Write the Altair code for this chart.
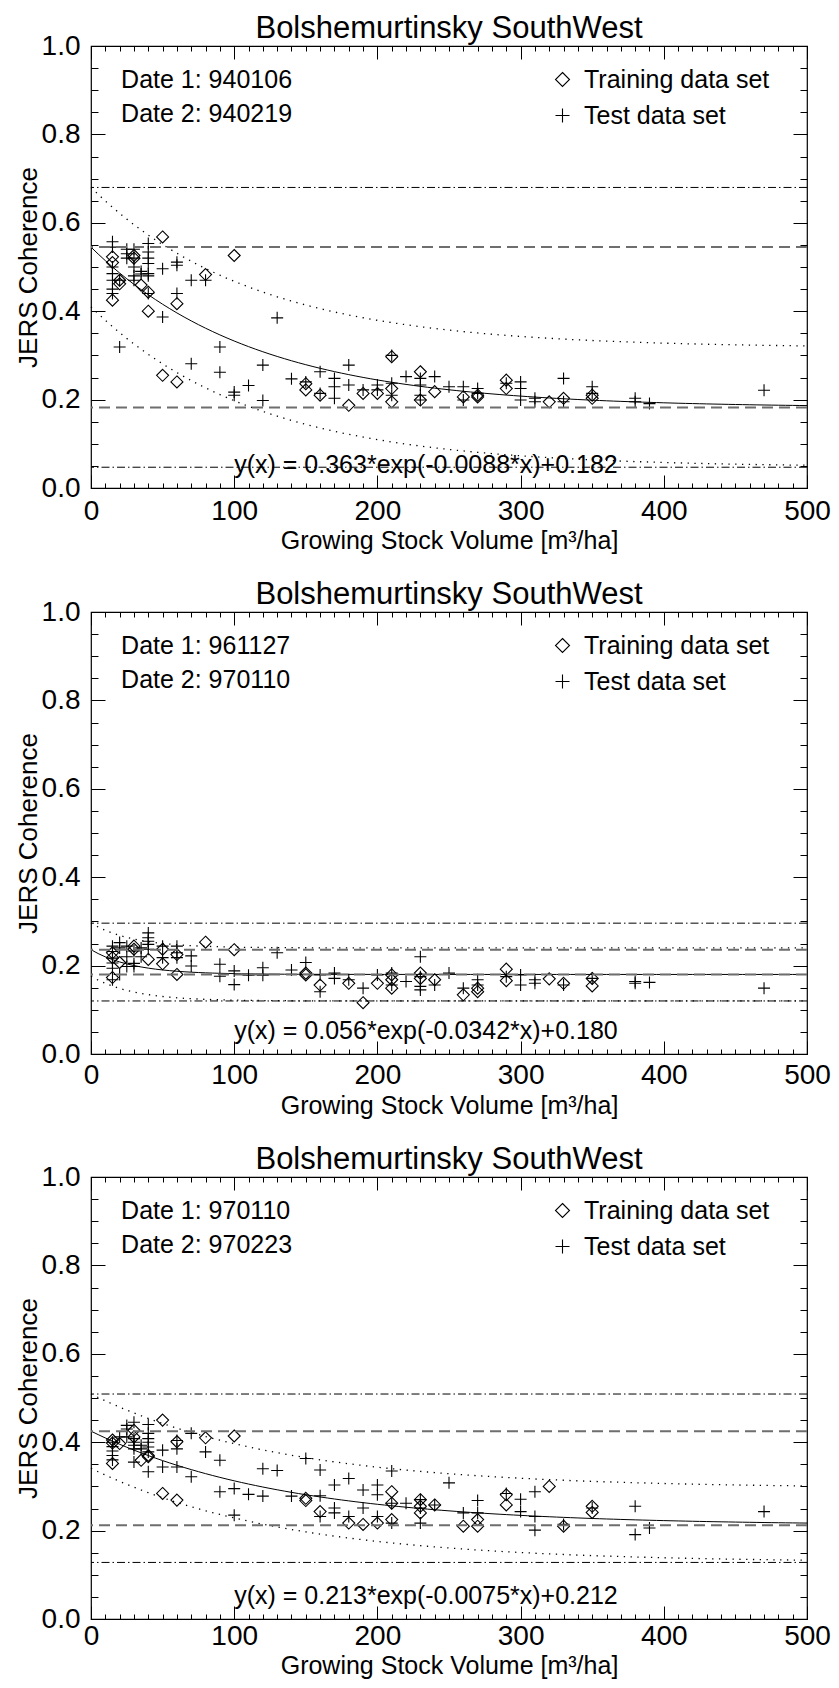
import altair as alt
import pandas as pd

FONT = "Liberation Sans, Arial, Helvetica, sans-serif"

TITLE = "Bolshemurtinsky SouthWest"
X_TITLE = "Growing Stock Volume [m³/ha]"
Y_TITLE = "JERS Coherence"
SET_NAMES = ["Training data set", "Test data set"]
DATE_1 = ["940106", "961127", "970110"]
DATE_2 = ["940219", "970110", "970223"]
EQUATIONS = [
    "y(x) = 0.363*exp(-0.0088*x)+0.182",
    "y(x) = 0.056*exp(-0.0342*x)+0.180",
    "y(x) = 0.213*exp(-0.0075*x)+0.212",
]
FIT_A = [0.363, 0.056, 0.213]
FIT_B = [-0.0088, -0.0342, -0.0075]
FIT_C = [0.182, 0.180, 0.212]
BAND = [0.135, 0.060, 0.084]
DASHED_LEVELS = [[0.545, 0.182], [0.236, 0.180], [0.425, 0.212]]
DASHDOT_LEVELS = [[0.680, 0.047], [0.296, 0.120], [0.509, 0.128]]

X_MAJOR = [0, 100, 200, 300, 400, 500]
X_MINOR = list(range(0, 501, 10))
Y_MAJOR = [0.0, 0.2, 0.4, 0.6, 0.8, 1.0]
Y_MINOR = [round(k * 0.05, 2) for k in range(21)]

# ---- panel 1 (940106 / 940219)
P1_TRAIN_X = [15, 20, 30, 35, 40, 50, 60, 80, 100, 150, 160, 180, 190, 200, 210, 230, 240, 260, 270, 290, 320, 330, 350]
P1_TRAIN_Y = [[0.523, 0.510, 0.425], [0.462, 0.470], [0.526, 0.520], [0.459], [0.443, 0.400], [0.568, 0.255],
              [0.417, 0.240], [0.483], [0.526], [0.236, 0.222], [0.210], [0.187], [0.214], [0.214],
              [0.297, 0.225, 0.195], [0.263, 0.199], [0.218], [0.206], [0.206, 0.210], [0.244, 0.225],
              [0.195], [0.203], [0.203, 0.210]]
P1_TEST_X = [15, 20, 25, 30, 35, 40, 50, 60, 70, 80, 90, 100, 110, 120, 130, 140, 150, 160, 170, 180, 190, 200,
             210, 220, 230, 240, 250, 260, 270, 290, 300, 310, 330, 350, 380, 390, 470]
P1_TEST_Y = [[0.557, 0.545, 0.500, 0.485, 0.470, 0.450, 0.440], [0.470, 0.319], [0.540, 0.530, 0.520],
             [0.540, 0.520, 0.500, 0.480, 0.470], [0.490, 0.484], [0.553, 0.534, 0.520, 0.508, 0.485, 0.480, 0.440],
             [0.496, 0.387], [0.511, 0.504, 0.440], [0.470, 0.281], [0.470], [0.319, 0.262], [0.217, 0.210],
             [0.232], [0.278, 0.198], [0.385], [0.247], [0.240], [0.263, 0.214], [0.248, 0.229, 0.203],
             [0.278, 0.233], [0.222], [0.233, 0.222], [0.300, 0.237, 0.210], [0.252], [0.248, 0.233, 0.210, 0.199],
             [0.252], [0.229], [0.229, 0.199], [0.225, 0.214], [0.237], [0.240, 0.225, 0.199], [0.203, 0.195],
             [0.248, 0.195], [0.229, 0.214], [0.203, 0.195], [0.191], [0.221]]

# ---- panel 2 (961127 / 970110)
P2_TRAIN_X = [15, 20, 30, 40, 50, 60, 80, 100, 150, 160, 180, 190, 200, 210, 230, 240, 260, 270, 290, 320, 330, 350]
P2_TRAIN_Y = [[0.229, 0.218, 0.173], [0.207], [0.244, 0.237], [0.214], [0.237, 0.204], [0.225, 0.180], [0.253],
              [0.236], [0.183, 0.179], [0.156], [0.160], [0.116], [0.160], [0.179, 0.168, 0.149],
              [0.183, 0.171], [0.168], [0.134], [0.149, 0.141], [0.192, 0.166], [0.170], [0.160], [0.171, 0.154]]
P2_TEST_X = [15, 20, 25, 30, 35, 40, 50, 60, 70, 90, 100, 110, 120, 130, 140, 150, 160, 170, 180, 190, 200, 210,
             220, 230, 240, 250, 260, 270, 290, 300, 310, 330, 350, 380, 390, 470]
P2_TEST_Y = [[0.244, 0.232, 0.217, 0.206, 0.194, 0.168], [0.252, 0.240, 0.180], [0.244, 0.220, 0.198],
             [0.233, 0.205, 0.198], [0.240, 0.220], [0.274, 0.263, 0.255, 0.248, 0.237], [0.244, 0.218],
             [0.244, 0.229, 0.218], [0.222, 0.199], [0.203, 0.176], [0.188, 0.157], [0.178], [0.195, 0.178],
             [0.229], [0.190], [0.207], [0.179, 0.141], [0.183, 0.171], [0.168], [0.149], [0.179], [0.183, 0.156],
             [0.164], [0.220, 0.175, 0.153, 0.145], [0.156], [0.183], [0.149], [0.168, 0.156], [0.175],
             [0.179, 0.156], [0.168, 0.160], [0.156], [0.171], [0.164, 0.160], [0.162], [0.149]]

# ---- panel 3 (970110 / 970223)
P3_TRAIN_X = [15, 20, 30, 35, 40, 50, 60, 80, 100, 150, 160, 180, 190, 200, 210, 230, 240, 260, 270, 290, 320, 330, 350]
P3_TRAIN_Y = [[0.405, 0.398, 0.352], [0.397], [0.427, 0.412], [0.359], [0.370, 0.367], [0.450, 0.284],
              [0.401, 0.269], [0.410], [0.414], [0.273, 0.268], [0.243], [0.217], [0.214], [0.217],
              [0.288, 0.262, 0.225], [0.270, 0.255, 0.240], [0.258], [0.210], [0.225, 0.210], [0.281, 0.258],
              [0.300], [0.210], [0.255, 0.241]]
P3_TEST_X = [15, 20, 25, 30, 35, 40, 50, 60, 70, 80, 90, 100, 110, 120, 130, 140, 150, 160, 170, 180, 190, 200,
             210, 220, 230, 240, 250, 260, 270, 290, 300, 310, 330, 350, 380, 390, 470]
P3_TEST_Y = [[0.400, 0.390, 0.380, 0.370, 0.360], [0.412], [0.438, 0.430, 0.412],
             [0.445, 0.408, 0.400, 0.393, 0.385, 0.355], [0.393, 0.385],
             [0.440, 0.420, 0.408, 0.400, 0.389, 0.378, 0.333], [0.382, 0.344], [0.404, 0.385, 0.344],
             [0.420, 0.322], [0.378], [0.359, 0.288], [0.295, 0.235], [0.282], [0.340, 0.278], [0.336], [0.278],
             [0.363], [0.337, 0.279, 0.232], [0.303, 0.251, 0.240], [0.318, 0.232], [0.292, 0.251],
             [0.303, 0.281, 0.232], [0.335, 0.262, 0.217], [0.262], [0.270, 0.251, 0.217], [0.258], [0.308],
             [0.240], [0.268, 0.240], [0.284], [0.271, 0.243], [0.288, 0.232, 0.201], [0.214], [0.251],
             [0.255, 0.191], [0.206], [0.243]]

TRAIN_X = [P1_TRAIN_X, P2_TRAIN_X, P3_TRAIN_X]
TRAIN_Y = [P1_TRAIN_Y, P2_TRAIN_Y, P3_TRAIN_Y]
TEST_X = [P1_TEST_X, P2_TEST_X, P3_TEST_X]
TEST_Y = [P1_TEST_Y, P2_TEST_Y, P3_TEST_Y]

# ---- style / layout (not data)
DIAMOND = "M0,-1L1,0L0,1L-1,0Z"
PLUS = "M-1,0L1,0M0,-1L0,1"
W, H = 716, 442
X_LABEL_PAD = [9, 7, 3]          # per panel: gap between plot bottom and tick labels
X_TITLE_Y = [73, 72, 67]         # per panel: x-title baseline, relative to the (inset) axis line


def expand(xs, groups, name):
    rows = []
    for x, ys in zip(xs, groups):
        for y in ys:
            rows.append({"gsv": x, "coh": y, "set": name})
    return rows


XS = alt.Scale(domain=[0, 500], nice=False, zero=False)
YS = alt.Scale(domain=[0, 1], nice=False, zero=False)


def x_axis(orient, major, show_labels=False, i=0):
    kw = dict(orient=orient, values=X_MAJOR if major else X_MINOR, domain=False, grid=False,
              ticks=True, tickColor="black", tickWidth=1, tickOpacity=1, zindex=2, minExtent=0,
              tickSize=13 if major else 5, offset=-13 if major else -5, labels=show_labels)
    if show_labels:
        kw.update(format="d", labelFont=FONT, labelFontSize=28, labelColor="black", labelPadding=X_LABEL_PAD[i],
                  labelFlush=False, labelOverlap=False, labelBound=False,
                  title=X_TITLE, titleFont=FONT, titleFontSize=25, titleFontWeight="normal",
                  titleColor="black", titleBaseline="alphabetic", titleY=X_TITLE_Y[i])
    else:
        kw.update(title=None)
    return alt.Axis(**kw)


def y_axis(orient, major, show_labels=False):
    kw = dict(orient=orient, values=Y_MAJOR if major else Y_MINOR, domain=False, grid=False,
              ticks=True, tickColor="black", tickWidth=1, tickOpacity=1, zindex=2, minExtent=0,
              tickSize=14 if major else 7, offset=-14 if major else -7, labels=show_labels)
    if show_labels:
        kw.update(format=".1f", labelFont=FONT, labelFontSize=28, labelColor="black", labelPadding=11,
                  labelFlush=False, labelOverlap=False, labelBound=False,
                  title=Y_TITLE, titleFont=FONT, titleFontSize=26, titleFontWeight="normal",
                  titleColor="black", titlePadding=0)
    else:
        kw.update(title=None)
    return alt.Axis(**kw)


def text_layer(txt, xv, yv):
    return alt.Chart(alt.Data(values=[{}])).mark_text(
        text=txt, align="left", baseline="alphabetic", font=FONT, fontSize=25, color="black"
    ).encode(x=alt.XDatum(xv, scale=XS, axis=None), y=alt.YDatum(yv, scale=YS, axis=None))


def make_panel(i):
    pts = pd.DataFrame(expand(TRAIN_X[i], TRAIN_Y[i], SET_NAMES[0]) +
                       expand(TEST_X[i], TEST_Y[i], SET_NAMES[1]))
    a, b, c, d = FIT_A[i], FIT_B[i], FIT_C[i], BAND[i]

    points = alt.Chart(pts).mark_point(filled=False, color="black", strokeWidth=1.1, size=144, opacity=1).encode(
        x=alt.X("gsv:Q", scale=XS, axis=x_axis("bottom", True, True, i)),
        y=alt.Y("coh:Q", scale=YS, axis=y_axis("left", True, True)),
        shape=alt.Shape("set:N", scale=alt.Scale(domain=SET_NAMES, range=[DIAMOND, PLUS]),
                        legend=alt.Legend(title=None, orient="none", legendX=459, legendY=21,
                                          direction="vertical", labelFont=FONT, labelFontSize=25,
                                          labelColor="black", labelLimit=0, symbolSize=196,
                                          symbolStrokeWidth=1.1, symbolStrokeColor="black",
                                          labelOffset=9, rowPadding=10, padding=0)),
    )

    curve = alt.Chart(alt.sequence(0, 505, 5, as_="gsv")).transform_calculate(
        fit=f"{a}*exp({b}*datum.gsv)+{c}",
        upper=f"{a}*exp({b}*datum.gsv)+{c}+{d}",
        lower=f"{a}*exp({b}*datum.gsv)+{c}-{d}",
    )
    fit_line = curve.mark_line(color="black", strokeWidth=1).encode(
        x=alt.X("gsv:Q", scale=XS, axis=x_axis("bottom", False)),
        y=alt.Y("fit:Q", scale=YS, axis=y_axis("left", False)),
    )
    upper = curve.mark_line(color="black", strokeWidth=1.3, strokeDash=[1.3, 5.5]).encode(
        x=alt.X("gsv:Q", scale=XS, axis=x_axis("top", True)),
        y=alt.Y("upper:Q", scale=YS, axis=y_axis("right", True)),
    )
    lower = curve.mark_line(color="black", strokeWidth=1.3, strokeDash=[1.3, 5.5]).encode(
        x=alt.X("gsv:Q", scale=XS, axis=x_axis("top", False)),
        y=alt.Y("lower:Q", scale=YS, axis=y_axis("right", False)),
    )
    dashed = alt.Chart(pd.DataFrame({"level": DASHED_LEVELS[i]})).mark_rule(
        color="#6e6e6e", strokeWidth=2, strokeDash=[11, 6]
    ).encode(y=alt.Y("level:Q", scale=YS, axis=None))
    dashdot = alt.Chart(pd.DataFrame({"level": DASHDOT_LEVELS[i]})).mark_rule(
        color="black", strokeWidth=1, strokeDash=[8, 3, 1.5, 3]
    ).encode(y=alt.Y("level:Q", scale=YS, axis=None))

    t1 = text_layer(f"Date 1: {DATE_1[i]}", 21, 0.905)
    t2 = text_layer(f"Date 2: {DATE_2[i]}", 21, 0.828)
    t3 = text_layer(EQUATIONS[i], 100, 0.034)

    return alt.layer(points, fit_line, upper, lower, dashed, dashdot, t1, t2, t3).resolve_axis(
        x="independent", y="independent"
    ).properties(
        width=W, height=H,
        title=alt.TitleParams(TITLE, fontSize=31, font=FONT, fontWeight="normal", offset=-13,
                              frame="group", anchor="middle", color="black"),
    )


chart = alt.vconcat(*[make_panel(i) for i in range(3)], spacing=24).resolve_scale(
    shape="independent"
).resolve_legend(shape="independent").properties(
    padding={"left": 6, "top": 4, "right": 0, "bottom": 0}
).configure_view(stroke="black", strokeWidth=1.2)

chart.save("out.html", embed_options={"renderer": "svg", "actions": False})
